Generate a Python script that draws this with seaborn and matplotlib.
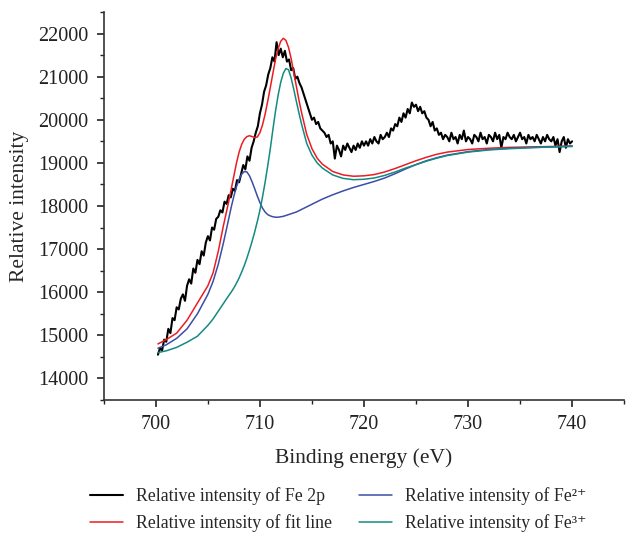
import matplotlib
matplotlib.use('Agg')
import matplotlib.pyplot as plt
from matplotlib.ticker import MultipleLocator
import numpy as np
import seaborn as sns

# measured Fe 2p spectrum (700.2 -> 740.0 eV, 0.2 eV step)
fe2p = [14550, 14700, 14650, 14900, 14850, 15150, 15050, 15400, 15350, 15650,
        15600, 15850, 15950, 15800, 16150, 16300, 16200, 16550, 16450, 16750,
        16650, 16950, 16850, 17150, 17300, 17200, 17500, 17450, 17700, 17750,
        17900, 17850, 18100, 18050, 18250, 18200, 18400, 18350, 18600, 18550,
        18750, 18950, 18850, 19150, 19050, 19350, 19500, 19700, 19850, 20150,
        20350, 20650, 20800, 21050, 21200, 21450, 21350, 21800, 21500, 21650,
        21450, 21600, 21350, 21400, 21150, 21200, 20950, 21000, 20850, 20750,
        20600, 20450, 20300, 20150, 20000, 20050, 19900, 19950, 19800, 19750,
        19700, 19600, 19650, 19450, 19500, 19100, 19400, 19300, 19150, 19400,
        19300, 19450, 19350, 19250, 19400, 19300, 19450, 19350, 19500, 19400,
        19500, 19400, 19550, 19450, 19600, 19500, 19450, 19650, 19550, 19600,
        19700, 19600, 19800, 19750, 19900, 19850, 20050, 19950, 20150, 20050,
        20250, 20150, 20400, 20300, 20350, 20200, 20300, 20150, 20200, 20050,
        20000, 19850, 19950, 19750, 19800, 19650, 19700, 19550, 19650, 19600,
        19500, 19700, 19550, 19600, 19450, 19650, 19550, 19750, 19500, 19600,
        19550, 19450, 19650, 19600, 19500, 19700, 19550, 19600, 19450, 19650,
        19600, 19500, 19700, 19550, 19650, 19350, 19600, 19550, 19700, 19600,
        19550, 19650, 19500, 19600, 19700, 19550, 19600, 19450, 19650, 19550,
        19600, 19500, 19650, 19550, 19450, 19600, 19500, 19650, 19550, 19500,
        19600, 19400, 19550, 19250, 19500, 19600, 19350, 19550, 19450, 19500]
energy = np.linspace(700.2, 740.0, len(fe2p))

# fitted components
fit_energy = [700.2, 701, 702, 703, 704, 705, 705.5, 706, 706.5,
              707, 707.25, 707.5, 707.75, 708, 708.25, 708.5, 708.75, 709, 709.25,
              709.5, 709.75, 710, 710.25, 710.5, 710.75, 711, 711.25, 711.5, 711.75,
              712, 712.25, 712.5, 712.75, 713, 713.25, 713.5, 713.75, 714,
              714.5, 715, 715.5, 716, 717, 718, 719, 720, 721, 722, 723, 724,
              725, 726, 727, 728, 730, 732, 734, 736, 738, 740]
fit_line = [14800, 14900, 15050, 15350, 15750, 16150, 16450, 16950, 17550,
            18100, 18400, 18700, 19000, 19250, 19430, 19550, 19610, 19630, 19610,
            19590, 19600, 19700, 19880, 20130, 20430, 20750, 21080, 21400, 21650,
            21820, 21890, 21840, 21680, 21420, 21100, 20780, 20460, 20170,
            19660, 19330, 19110, 18970, 18800, 18720, 18690, 18700, 18730, 18790, 18870, 18960,
            19050, 19130, 19200, 19250, 19310, 19340, 19360, 19370, 19380, 19390]
fe2_plus = [14700, 14780, 14930, 15150, 15500, 15950, 16250, 16650, 17150,
            17700, 17980, 18230, 18450, 18620, 18740, 18800, 18790, 18700, 18560,
            18400, 18230, 18080, 17950, 17860, 17800, 17770, 17750, 17740, 17740,
            17750, 17760, 17780, 17800, 17820, 17840, 17860, 17890, 17920,
            17980, 18040, 18100, 18160, 18260, 18350, 18430, 18500, 18570, 18650, 18750, 18860,
            18960, 19050, 19120, 19180, 19260, 19310, 19340, 19360, 19370, 19390]
fe3_plus = [14600, 14640, 14720, 14840, 14980, 15230, 15380, 15560, 15740,
            15920, 16005, 16100, 16210, 16330, 16470, 16620, 16790, 16980, 17180,
            17400, 17640, 17900, 18210, 18550, 18930, 19330, 19780, 20200, 20570,
            20870, 21080, 21190, 21160, 20970, 20710, 20430, 20160, 19900,
            19450, 19180, 19000, 18880, 18720, 18640, 18610, 18620, 18650, 18710, 18790, 18880,
            18960, 19040, 19110, 19170, 19250, 19300, 19330, 19350, 19370, 19380]

sns.set_style('ticks')
plt.rcParams['font.family'] = ['Liberation Serif', 'DejaVu Serif']

fig = plt.figure(figsize=(6.33, 5.34), dpi=100)
ax = fig.add_axes([0.164, 0.251, 0.822, 0.7265])

sns.lineplot(x=energy, y=fe2p, color='black', linewidth=1.5, ax=ax,
             label='Relative intensity of Fe 2p')
sns.lineplot(x=fit_energy, y=fit_line, color='#ec1c24', linewidth=1.1, ax=ax,
             label='Relative intensity of fit line')
sns.lineplot(x=fit_energy, y=fe2_plus, color='#3a4ea6', linewidth=1.1, ax=ax,
             label='Relative intensity of Fe²⁺')
sns.lineplot(x=fit_energy, y=fe3_plus, color='#138b82', linewidth=1.1, ax=ax,
             label='Relative intensity of Fe³⁺')

ax.set_xlim(695, 745)
ax.set_ylim(13500, 22500)
ax.xaxis.set_major_locator(MultipleLocator(10))
ax.xaxis.set_minor_locator(MultipleLocator(5))
ax.yaxis.set_major_locator(MultipleLocator(1000))
ax.yaxis.set_minor_locator(MultipleLocator(500))
ax.tick_params(which='major', direction='out', length=5, width=1.2, labelsize=14.5,
               colors='#222222', pad=6)
ax.tick_params(which='minor', direction='out', length=3, width=1.0, colors='#222222')
for s in ['top', 'right']:
    ax.spines[s].set_visible(False)
for s in ['left', 'bottom']:
    ax.spines[s].set_linewidth(1.2)
    ax.spines[s].set_color('#333333')

ax.set_xlabel('Binding energy (eV)', fontsize=15.5, labelpad=10)
ax.set_ylabel('Relative intensity', fontsize=15.5, labelpad=7)

ax.legend(loc='upper center', bbox_to_anchor=(0.45, -0.183), ncol=2, frameon=False,
          fontsize=12.8, handlelength=1.9, handletextpad=0.7, columnspacing=1.5,
          labelspacing=0.55)

fig.savefig('out.png', dpi=100)
